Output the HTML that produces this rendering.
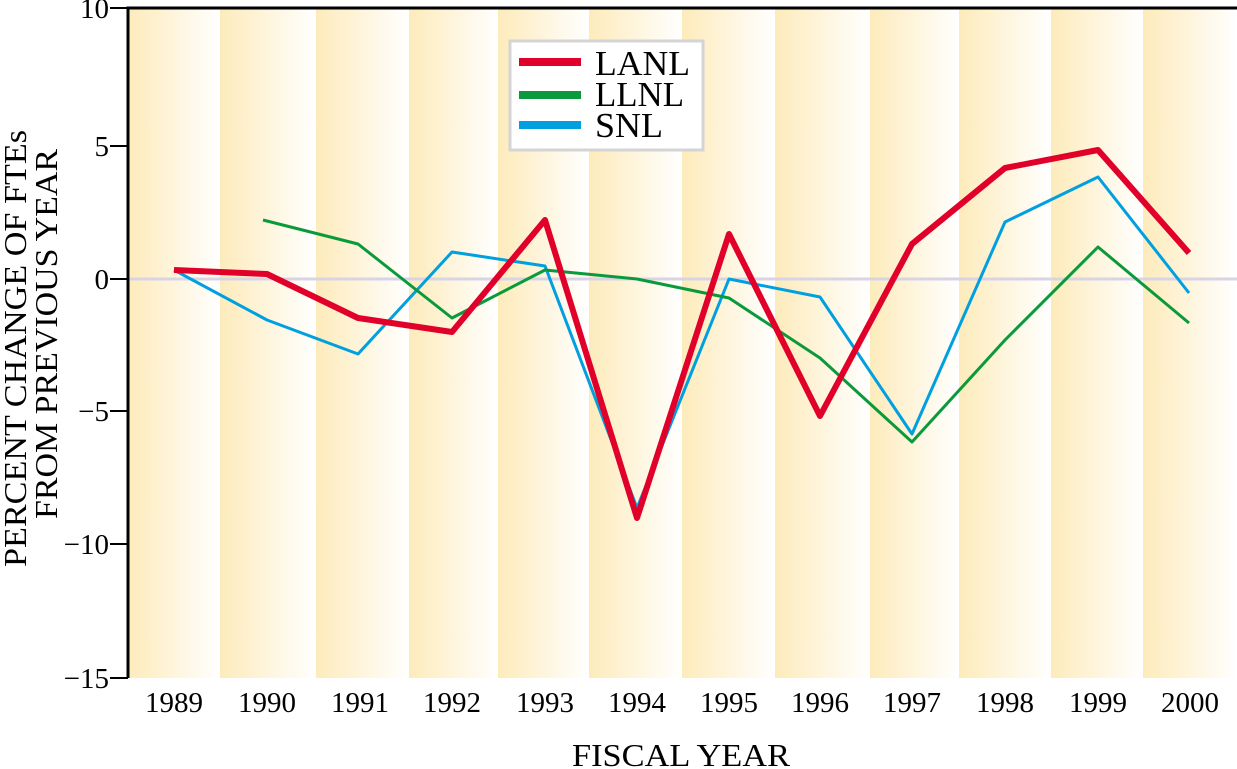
<!DOCTYPE html>
<html><head><style>body{margin:0;background:#fff}svg{display:block}</style></head><body>
<svg width="1237" height="769" viewBox="0 0 1237 769" xmlns="http://www.w3.org/2000/svg" font-family="Liberation Serif, serif">
<defs><linearGradient id="g" x1="0" x2="1" y1="0" y2="0"><stop offset="0" stop-color="#fdebbb"/><stop offset="1" stop-color="#ffffff"/></linearGradient></defs>
<g>
<rect x="129" y="8" width="91" height="670" fill="url(#g)"/>
<rect x="220" y="8" width="96" height="670" fill="url(#g)"/>
<rect x="316" y="8" width="93" height="670" fill="url(#g)"/>
<rect x="409" y="8" width="89" height="670" fill="url(#g)"/>
<rect x="498" y="8" width="91" height="670" fill="url(#g)"/>
<rect x="589" y="8" width="93" height="670" fill="url(#g)"/>
<rect x="682" y="8" width="93" height="670" fill="url(#g)"/>
<rect x="775" y="8" width="95" height="670" fill="url(#g)"/>
<rect x="870" y="8" width="89" height="670" fill="url(#g)"/>
<rect x="959" y="8" width="92" height="670" fill="url(#g)"/>
<rect x="1051" y="8" width="92" height="670" fill="url(#g)"/>
<rect x="1143" y="8" width="94" height="670" fill="url(#g)"/>
</g>
<line x1="129" y1="279" x2="1237" y2="279" stroke="#d8d4e6" stroke-width="3"/>
<path d="M128 678V8H1237" fill="none" stroke="#000" stroke-width="3"/>
<g stroke="#000" stroke-width="2">
<line x1="110" y1="8" x2="128" y2="8"/><line x1="110" y1="146" x2="128" y2="146"/><line x1="110" y1="279" x2="128" y2="279"/><line x1="110" y1="411" x2="128" y2="411"/><line x1="110" y1="544" x2="128" y2="544"/><line x1="110" y1="678" x2="128" y2="678"/>
</g>
<g font-size="29" text-anchor="end">
<text x="109" y="18">10</text><text x="109" y="156">5</text><text x="109" y="289">0</text><text x="109" y="421">−5</text><text x="109" y="554">−10</text><text x="109" y="688">−15</text>
</g>
<g font-size="29" text-anchor="middle">
<text x="174" y="712">1989</text><text x="267" y="712">1990</text><text x="360" y="712">1991</text><text x="452" y="712">1992</text><text x="545" y="712">1993</text><text x="637" y="712">1994</text><text x="729" y="712">1995</text><text x="820" y="712">1996</text><text x="912" y="712">1997</text><text x="1005" y="712">1998</text><text x="1098" y="712">1999</text><text x="1190" y="712">2000</text>
</g>
<text x="572" y="766" font-size="32" textLength="218" lengthAdjust="spacingAndGlyphs">FISCAL YEAR</text>
<g font-size="32">
<text transform="translate(26,567) rotate(-90)" textLength="437" lengthAdjust="spacingAndGlyphs">PERCENT CHANGE OF FTEs</text>
<text transform="translate(57,519) rotate(-90)" textLength="370" lengthAdjust="spacingAndGlyphs">FROM PREVIOUS YEAR</text>
</g>
<polyline fill="none" stroke="#00a0e0" stroke-width="3" stroke-linejoin="round" points="174,270 267,320 358,354 452,252 545,266 637,508 729,279 820,297 912,434 1005,222 1098,177 1189,293"/>
<polyline fill="none" stroke="#0a9a3c" stroke-width="3" stroke-linejoin="round" points="263,220 358,244 452,318 545,270 637,279 729,298 820,358 912,442 1005,340 1098,247 1189,323"/>
<polyline fill="none" stroke="#e0002a" stroke-width="6" stroke-linejoin="round" points="174,270 267,274 358,318 452,332 545,220 637,518 729,234 820,416 912,244 1005,168 1098,150 1189,253"/>
<rect x="510" y="41" width="193" height="109" fill="#fff" stroke="#d4d4d4" stroke-width="3"/>
<rect x="519" y="58" width="62" height="8" fill="#e0002a"/>
<rect x="519" y="91" width="62" height="8" fill="#0a9a3c"/>
<rect x="519" y="121" width="62" height="8" fill="#00a0e0"/>
<g font-size="35"><text x="595" y="75" textLength="95" lengthAdjust="spacingAndGlyphs">LANL</text><text x="595" y="106" textLength="89" lengthAdjust="spacingAndGlyphs">LLNL</text><text x="595" y="137" textLength="68" lengthAdjust="spacingAndGlyphs">SNL</text></g>
</svg>
</body></html>
